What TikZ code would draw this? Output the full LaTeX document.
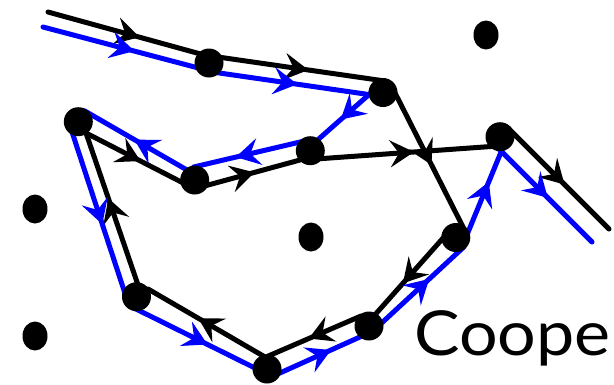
\documentclass[tikz,border=0pt]{standalone}
\usepackage{fontspec}
\newfontfamily\labelfont{Lato}
\usetikzlibrary{calc,shapes.geometric,arrows.meta,decorations.markings}
\tikzset{
  dot/.style={circle, fill=black, inner sep=0pt, minimum size=29pt},
  lonedot/.style={ellipse, fill=black, inner sep=0pt, minimum width=25pt, minimum height=29pt},
  midtip/.tip={Stealth[length=24pt,width=27pt,inset=9pt]},
  pathline/.style={line width=5pt, line cap=round, postaction={decorate},
    decoration={markings, mark=at position #1 with {\arrow{midtip}}}},
  blk/.style={pathline=#1, color=black},
  blk/.default=0.55,
  blu/.style={pathline=#1, color=blue},
  blu/.default=0.55,
}
\begin{document}
\begin{tikzpicture}[x=1pt,y=-1pt]
\useasboundingbox (0,0) rectangle (614,384);
% dots (positions)
\path (209,63) coordinate (A) (383,92.5) coordinate (B) (310.3,150.7) coordinate (C)
      (194.7,180) coordinate (D) (78.3,121.7) coordinate (E) (500,136.7) coordinate (F)
      (455.8,237.5) coordinate (G) (369,326) coordinate (H) (267,369) coordinate (I)
      (136.5,296.7) coordinate (J);
\coordinate (bS) at (48,12);
\coordinate (bT) at (609,229);
\coordinate (lS) at (43,27);
\coordinate (lT) at (592,242);
% black path
\draw[blk=0.58] (bS) -- ($(A)+(-3,-7.5)$);
\draw[blk=0.56] ($(A)+(2,-7)$) -- ($(B)+(2,-11.5)$);
\draw[blk=0.55] ($(B)+(9,-5.5)$) -- ($(G)+(8,-9)$);
\draw[blk=0.59] ($(G)+(-10,-2.5)$) -- ($(H)+(4,-9)$);
\draw[blk=0.55] ($(H)+(-8,-10)$) -- ($(I)+(-1,-12)$);
\draw[blk=0.57] ($(I)+(-2,-12)$) -- ($(J)+(11.5,-7.7)$);
\draw[blk=0.57] ($(J)+(1.5,-11.7)$) -- ($(E)+(7.7,11.3)$);
\draw[blk=0.52] ($(E)+(7.7,11.3)$) -- ($(D)+(-3.7,7)$);
\draw[blk=0.55] ($(D)+(4.3,7.5)$) -- ($(C)+(-10.3,9.3)$);
\draw[blk=0.56] ($(C)+(5.7,8.3)$) -- ($(F)+(-9,9.8)$);
\draw[blk=0.56] ($(F)+(8,-8.7)$) -- (bT);
% blue path
\draw[blu=0.56] (lS) -- ($(A)+(-3,7)$);
\draw[blu=0.52] ($(A)+(0,8.5)$) -- ($(B)+(-4,3.5)$);
\draw[blu=0.5] ($(B)+(-10,-1.5)$) -- ($(C)+(-2,-2.5)$);
\draw[blu=0.62] ($(C)+(-6,-9.7)$) -- ($(D)+(-1,-13)$);
\draw[blu=0.52] ($(D)+(-6,-9)$) -- ($(E)+(6,-11)$);
\draw[blu=0.59] ($(E)+(-9,2)$) -- ($(J)+(-11.3,-2.7)$);
\draw[blu=0.57] ($(J)+(-2.5,11.3)$) -- ($(I)+(-4,3)$);
\draw[blu=0.6] ($(I)+(4,8)$) -- ($(H)+(2,6)$);
\draw[blu=0.62] ($(H)+(4,5)$) -- ($(G)+(8,9.5)$);
\draw[blu=0.59] ($(G)+(8.2,4.5)$) -- ($(F)+(6,3.3)$);
\draw[blu=0.54] ($(F)+(-4,9.3)$) -- (lT);
% dots
\foreach \n in {A,B,C,D,E,F,G,H,I,J} \node[dot] (d\n) at (\n) {};
\node[lonedot] (p1) at (486,35) {};
\node[lonedot] (p2) at (35,209) {};
\node[lonedot] (p3) at (311,237) {};
\node[lonedot] (p4) at (35,336) {};
% label
\node[anchor=base west, inner sep=0pt, font=\labelfont\fontsize{62}{62}\selectfont] (lbl) at (414,355) {\scalebox{1.1}[1]{Coope}};
\end{tikzpicture}
\end{document}
